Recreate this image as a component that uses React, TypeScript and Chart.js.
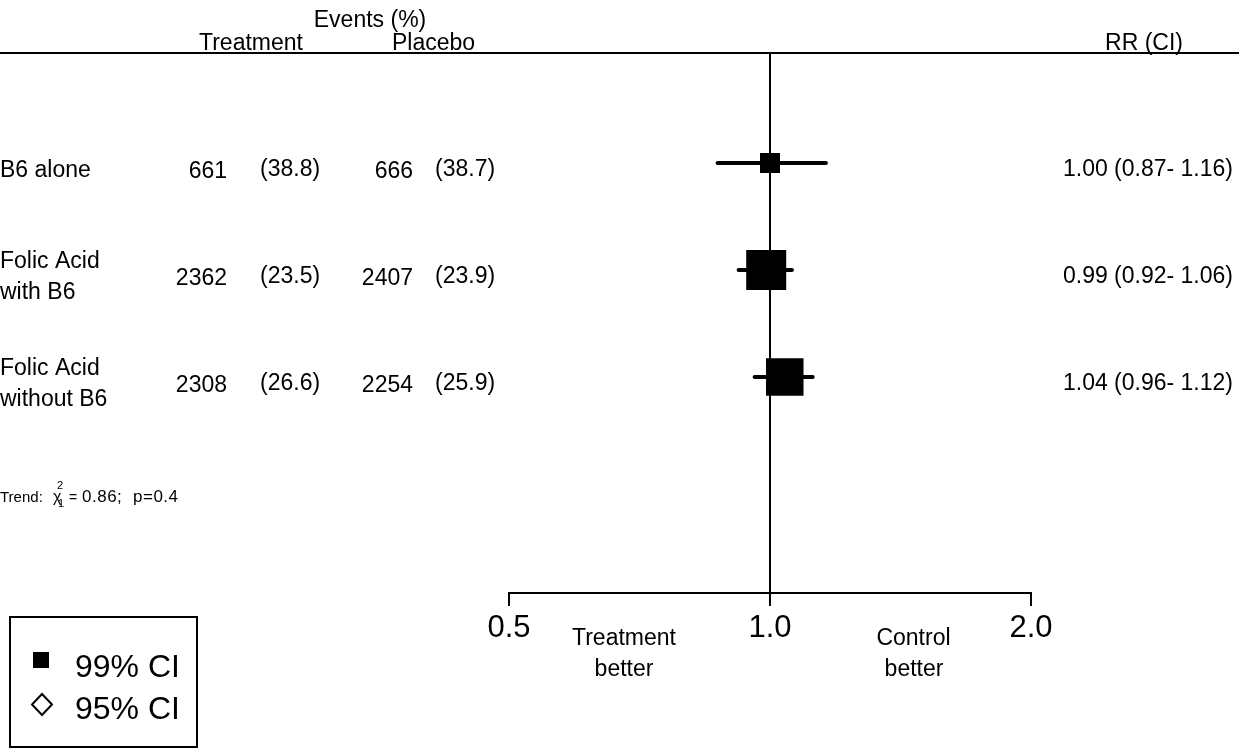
import React, { useEffect, useRef } from 'react';
import { Chart, registerables } from 'chart.js';

Chart.register(...registerables);

// ---------- data ----------
const STUDY_LABELS: string[][] = [['B6 alone'], ['Folic Acid', 'with B6'], ['Folic Acid', 'without B6']];
const TREAT_EVENTS = ['661', '2362', '2308'];
const TREAT_PCT = ['(38.8)', '(23.5)', '(26.6)'];
const PLACEBO_EVENTS = ['666', '2407', '2254'];
const PLACEBO_PCT = ['(38.7)', '(23.9)', '(25.9)'];
const RR = [1.0, 0.99, 1.04];
const CI_LO = [0.87, 0.92, 0.96];
const CI_HI = [1.16, 1.06, 1.12];
const AXIS_TICKS = [0.5, 1, 2];
const AXIS_TICK_LABELS = ['0.5', '1.0', '2.0'];
const LEGEND_LABELS = ['99% CI', '95% CI'];
const TREND_CHI2 = '0.86';
const TREND_P = '0.4';

// ---------- layout / style ----------
const W = 1239;
const H = 749;
const FONT = '"Liberation Sans", Arial, Helvetica, sans-serif';
const BOX_SIDE = [20, 40, 37.5];
const X_REF_PX = 770;
const PX_PER_DOUBLING = 261;
const XMIN = Math.pow(2, -X_REF_PX / PX_PER_DOUBLING);
const XMAX = Math.pow(2, (W - X_REF_PX) / PX_PER_DOUBLING);
const ROW0_PX = 163;
const ROW_STEP = 107;
const YMIN = -ROW0_PX / ROW_STEP;
const YMAX = YMIN + H / ROW_STEP;

const fmt = (v: number) => v.toFixed(2);

const decorPlugin = {
  id: 'forestDecor',
  beforeDatasetsDraw(chart: any) {
    const { ctx, scales } = chart;
    const x = scales.x;
    ctx.save();
    ctx.strokeStyle = '#000';
    ctx.lineWidth = 2;
    ctx.lineCap = 'butt';
    // header rule
    ctx.beginPath();
    ctx.moveTo(0, 53);
    ctx.lineTo(W, 53);
    ctx.stroke();
    // reference line at RR = 1
    const x1 = x.getPixelForValue(1);
    ctx.beginPath();
    ctx.moveTo(x1, 53);
    ctx.lineTo(x1, 606);
    ctx.stroke();
    // bottom axis
    const xs = AXIS_TICKS.map((v) => x.getPixelForValue(v));
    ctx.beginPath();
    ctx.moveTo(xs[0], 606);
    ctx.lineTo(xs[0], 593);
    ctx.lineTo(xs[xs.length - 1], 593);
    ctx.lineTo(xs[xs.length - 1], 606);
    ctx.stroke();
    ctx.restore();
  },
  afterDatasetsDraw(chart: any) {
    const { ctx, scales } = chart;
    const x = scales.x;
    const y = scales.y;
    ctx.save();
    ctx.fillStyle = '#000';
    ctx.textBaseline = 'alphabetic';
    const text = (s: string, px: number, py: number, size: number, align: CanvasTextAlign = 'left', spacing = 0) => {
      ctx.font = `${size}px ${FONT}`;
      ctx.textAlign = align;
      (ctx as any).letterSpacing = `${spacing}px`;
      ctx.fillText(s, px, py);
      (ctx as any).letterSpacing = '0px';
    };

    // header
    text('Events (%)', 370, 27, 23, 'center');
    text('Treatment', 199, 50, 23);
    text('Placebo', 392, 50, 23);
    text('RR (CI)', 1183, 50, 23, 'right');

    // rows
    STUDY_LABELS.forEach((lines, i) => {
      const py = y.getPixelForValue(i);
      if (lines.length === 1) {
        text(lines[0], 0, py + 14, 23);
      } else {
        text(lines[0], 0, py - 2.5, 23);
        text(lines[1], 0, py + 28.75, 23);
      }
      text(TREAT_EVENTS[i], 227, py + 14.5, 23, 'right');
      text(TREAT_PCT[i], 260, py + 12.5, 23);
      text(PLACEBO_EVENTS[i], 413, py + 14.5, 23, 'right');
      text(PLACEBO_PCT[i], 435, py + 12.5, 23);
      text(`${fmt(RR[i])} (${fmt(CI_LO[i])}- ${fmt(CI_HI[i])})`, 1233, py + 12.5, 23, 'right');
    });

    // axis labels
    AXIS_TICKS.forEach((v, i) => {
      text(AXIS_TICK_LABELS[i], x.getPixelForValue(v), 637, 31, 'center');
    });
    text('Treatment', 624, 645, 23, 'center');
    text('better', 624, 676, 23, 'center');
    text('Control', 913.5, 645, 23, 'center');
    text('better', 914, 676, 23, 'center');

    // trend statistic
    text('Trend:', 0, 502, 15);
    text('\u03C7', 53, 502, 16);
    text('2', 57, 489, 11);
    text('1', 58, 507, 11);
    text('=', 69, 502, 14);
    text(`${TREND_CHI2};`, 82, 502, 17, 'left', 0.5);
    text(`p=${TREND_P}`, 133, 502, 17, 'left', 0.5);

    // legend box
    ctx.strokeStyle = '#000';
    ctx.lineWidth = 2;
    ctx.strokeRect(10, 617, 187, 130);
    ctx.fillRect(33, 652, 16, 16);
    ctx.beginPath();
    ctx.moveTo(42, 694);
    ctx.lineTo(52, 704.5);
    ctx.lineTo(42, 715);
    ctx.lineTo(32, 704.5);
    ctx.closePath();
    ctx.stroke();
    text(LEGEND_LABELS[0], 75, 677, 32);
    text(LEGEND_LABELS[1], 75, 719, 32);
    ctx.restore();
  },
};

export default function App() {
  const ref = useRef<HTMLCanvasElement>(null);
  useEffect(() => {
    const canvas = ref.current;
    if (!canvas) return;
    const boxData = RR.map((v, i) => ({ x: v, y: i }));
    const ciSets = RR.map((_, i) => ({
      type: 'line' as const,
      data: [
        { x: CI_LO[i], y: i },
        { x: CI_HI[i], y: i },
      ],
      showLine: true,
      borderColor: '#000',
      borderWidth: 4,
      borderCapStyle: 'round' as const,
      pointRadius: 0,
      fill: false,
    }));
    const chart = new Chart(canvas, {
      type: 'scatter',
      data: {
        datasets: [
          {
            data: boxData,
            pointStyle: 'rect',
            pointRadius: BOX_SIDE.map((s) => s / Math.SQRT2),
            backgroundColor: '#000',
            borderColor: '#000',
            borderWidth: 0,
          } as any,
          ...ciSets,
        ],
      },
      options: {
        animation: false,
        responsive: false,
        devicePixelRatio: 1,
        events: [],
        layout: { padding: 0, autoPadding: false },
        plugins: { legend: { display: false }, tooltip: { enabled: false } },
        scales: {
          x: { type: 'logarithmic', min: XMIN, max: XMAX, display: false, bounds: 'data' },
          y: { type: 'linear', min: YMIN, max: YMAX, reverse: true, display: false, bounds: 'data' },
        },
      } as any,
      plugins: [decorPlugin],
    });
    return () => chart.destroy();
  }, []);
  return (
    <div style={{ position: 'absolute', left: 0, top: 0, width: W, height: H, background: '#fff' }}>
      <canvas ref={ref} width={W} height={H} style={{ display: 'block', width: W, height: H }} />
    </div>
  );
}
